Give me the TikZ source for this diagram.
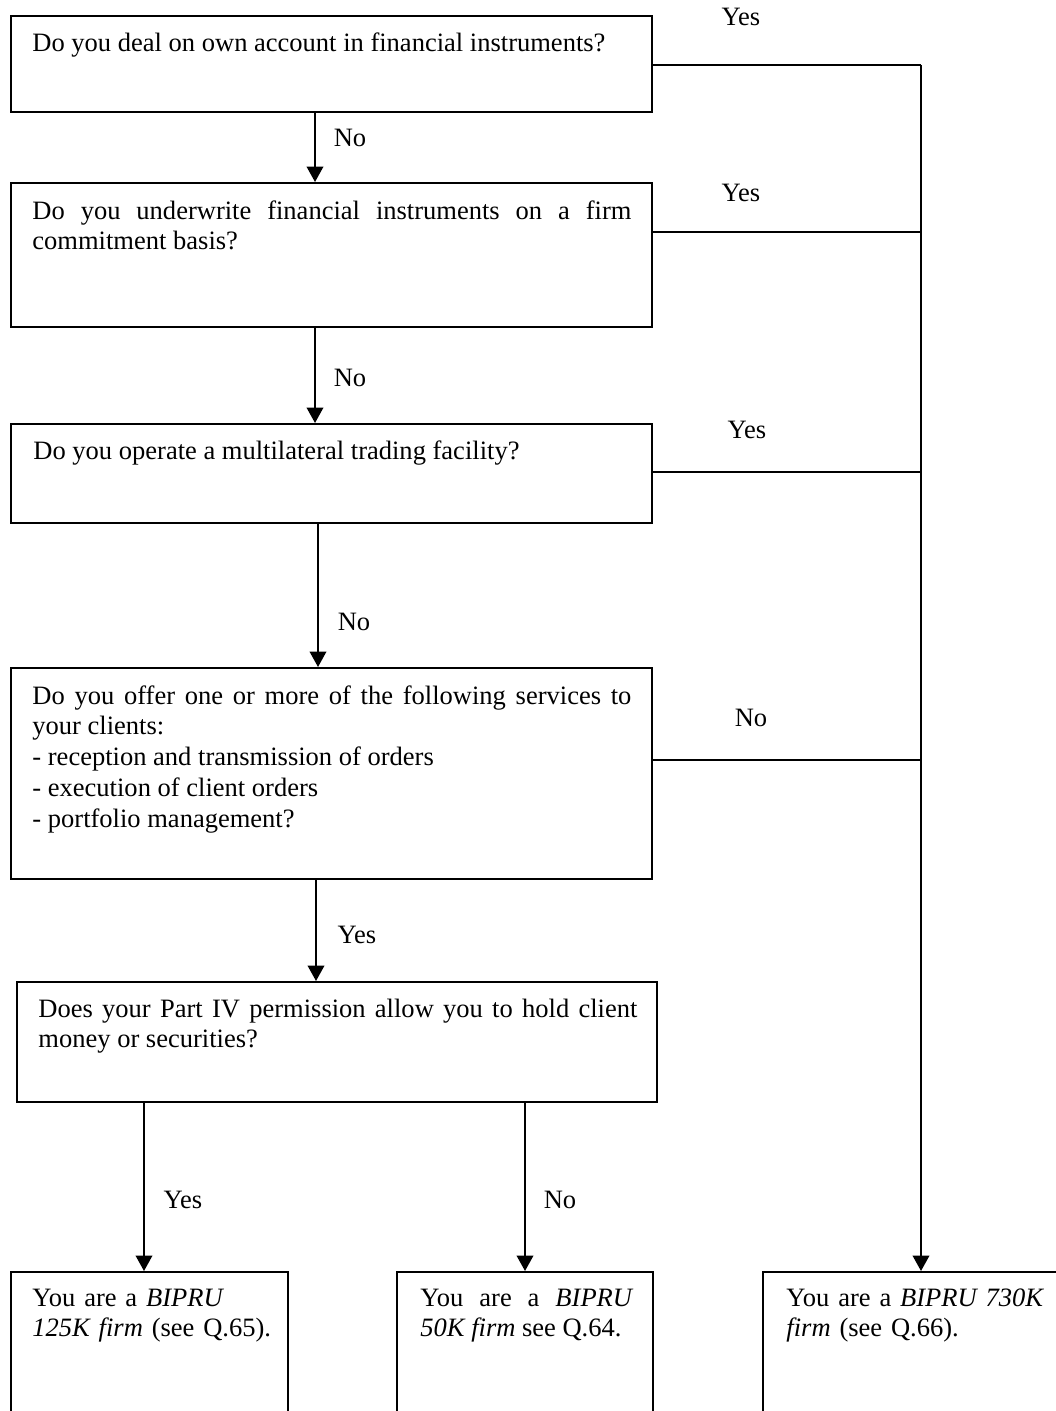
\documentclass[tikz,border=0pt]{standalone}
\usepackage{fontspec}
\setmainfont{Liberation Serif}
\usetikzlibrary{arrows.meta}
\hbadness=10000
\begin{document}
\begin{tikzpicture}[x=0.4525pt,y=-0.4525pt,
  font=\fontsize{12pt}{14pt}\selectfont,
  frame/.style={draw,line width=0.9pt,rectangle,inner sep=0pt},
  qtext/.style={anchor=base west,inner sep=0pt,align=justify,text width=271.05pt},
  lbl/.style={inner sep=0pt},
  conn/.style={line width=0.9pt},
  arr/.style={line width=0.9pt,-{Triangle[length=7pt,width=7.5pt]}}]
\path[use as bounding box] (0,0) rectangle (1056,1411);
\fill[white] (0,0) rectangle (1056,1411);
\clip (0,0) rectangle (1056,1411);

% question boxes
\node[frame,minimum width=290.05pt,minimum height=43.44pt] (b1) at (331.5,64) {};
\node[frame,minimum width=290.05pt,minimum height=65.16pt] (b2) at (331.5,255) {};
\node[frame,minimum width=290.05pt,minimum height=44.80pt] (b3) at (331.5,473.5) {};
\node[frame,minimum width=290.05pt,minimum height=95.48pt] (b4) at (331.5,773.5) {};
\node[frame,minimum width=289.6pt,minimum height=54.3pt] (b5) at (337,1042) {};
% result boxes
\node[frame,minimum width=125.34pt,minimum height=71.5pt] (ba) at (149.5,1351) {};
\node[frame,minimum width=115.84pt,minimum height=71.5pt] (bb) at (525,1351) {};
\node[frame,minimum width=143.4pt,minimum height=71.5pt] (bc) at (921.5,1351) {};

% texts
\node[qtext] (t1) at (32,52) {Do you deal on own account in financial instruments?};
\node[qtext] (t2) at (32,219) {Do you underwrite financial instruments on a firm\linebreak commitment basis?};
\node[qtext] (t3) at (33,459) {Do you operate a multilateral trading facility?};
\node[qtext] (t4) at (32,704) {Do you offer one or more of the following services to\linebreak your clients:\\- reception and transmission of orders\\- execution of client orders\\- portfolio management?};
\node[qtext] (t5) at (38,1017) {Does your Part IV permission allow you to hold client\linebreak money or securities?};
\node[qtext,align=left,text width=108pt] (ta) at (32,1306) {You are a \textit{BIPRU 125K firm} (see Q.65).};
\node[qtext,text width=96.4pt] (tb) at (420,1306) {You are a \textit{BIPRU}\linebreak \textit{50K firm} see Q.64.};
\node[qtext,align=left,text width=120pt] (tc) at (786,1306) {You are a \textit{BIPRU 730K firm} (see Q.66).};

% helper coordinates
\coordinate (x1) at (315,0);
\coordinate (x3) at (318,0);
\coordinate (x4) at (316,0);
\coordinate (xa) at (144,0);
\coordinate (xb) at (525,0);
\coordinate (j1) at (921,65);
\coordinate (j2) at (921,232);
\coordinate (j3) at (921,472);
\coordinate (j4) at (921,760);

% vertical flow
\draw[arr] (b1.south -| x1) -- (b2.north -| x1);
\draw[arr] (b2.south -| x1) -- (b3.north -| x1);
\draw[arr] (b3.south -| x3) -- (b4.north -| x3);
\draw[arr] (b4.south -| x4) -- (b5.north -| x4);
\draw[arr] (b5.south -| xa) -- (ba.north -| xa);
\draw[arr] (b5.south -| xb) -- (bb.north -| xb);

% right bus
\draw[conn] (b1.east |- j1) -- (j1);
\draw[conn] (b2.east |- j2) -- (j2);
\draw[conn] (b3.east |- j3) -- (j3);
\draw[conn] (b4.east |- j4) -- (j4);
\draw[arr] (j1) -- (bc.north -| j1);

% labels
\node[lbl] (l1) at (741,17) {Yes};
\node[lbl] (l2) at (350,138) {No};
\node[lbl] (l3) at (741,193) {Yes};
\node[lbl] (l4) at (350,378) {No};
\node[lbl] (l5) at (747,430) {Yes};
\node[lbl] (l6) at (354,622) {No};
\node[lbl] (l7) at (751,718) {No};
\node[lbl] (l8) at (357,935) {Yes};
\node[lbl] (l9) at (183,1200) {Yes};
\node[lbl] (l10) at (560,1200) {No};
\end{tikzpicture}
\end{document}
